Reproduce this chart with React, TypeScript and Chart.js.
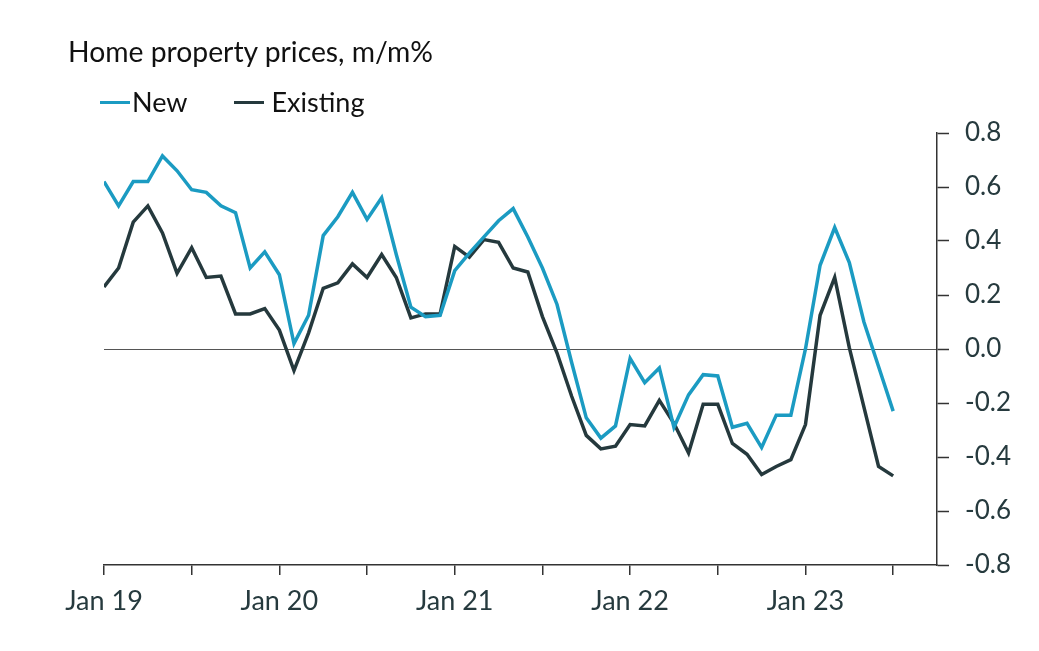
import React, { useEffect, useRef } from "react";
import { Chart, registerables } from "chart.js";

Chart.register(...registerables);

const startYear = 19;
const newPrices = [0.62, 0.53, 0.62, 0.62, 0.715, 0.66, 0.59, 0.58, 0.53, 0.505, 0.30, 0.36, 0.275, 0.02, 0.125, 0.42, 0.49, 0.58, 0.48, 0.56, 0.35, 0.155, 0.12, 0.125, 0.29, 0.355, 0.415, 0.475, 0.52, 0.415, 0.30, 0.165, -0.05, -0.255, -0.33, -0.285, -0.035, -0.125, -0.07, -0.29, -0.17, -0.095, -0.10, -0.29, -0.275, -0.365, -0.245, -0.245, 0.0, 0.31, 0.45, 0.32, 0.10, -0.065, -0.23];
const existingPrices = [0.23, 0.30, 0.47, 0.53, 0.43, 0.28, 0.375, 0.265, 0.27, 0.13, 0.13, 0.15, 0.07, -0.08, 0.06, 0.225, 0.245, 0.315, 0.265, 0.35, 0.265, 0.115, 0.13, 0.13, 0.38, 0.34, 0.405, 0.395, 0.30, 0.285, 0.12, -0.015, -0.175, -0.32, -0.37, -0.36, -0.28, -0.285, -0.19, -0.275, -0.385, -0.205, -0.205, -0.35, -0.39, -0.465, -0.435, -0.41, -0.28, 0.125, 0.265, 0.005, -0.215, -0.435, -0.47];
const yTicks = [-0.8, -0.6, -0.4, -0.2, 0.0, 0.2, 0.4, 0.6, 0.8];

const NEW_COLOR = "#1b9bc2";
const EXIST_COLOR = "#25393d";
const TEXT_COLOR = "#263a3e";
const FONT = "Lato";

export default function App() {
  const ref = useRef<HTMLCanvasElement | null>(null);
  useEffect(() => {
    if (!ref.current) return;
    const chart = new Chart(ref.current, {
      type: "line",
      data: {
        datasets: [
          {
            label: "New",
            data: newPrices.map((v, i) => ({ x: i, y: v })),
            borderColor: NEW_COLOR,
            borderWidth: 3.5,
            pointRadius: 0,
            tension: 0,
          },
          {
            label: "Existing",
            data: existingPrices.map((v, i) => ({ x: i, y: v })),
            borderColor: EXIST_COLOR,
            borderWidth: 3.5,
            pointRadius: 0,
            tension: 0,
          },
        ],
      },
      options: {
        animation: false,
        responsive: false,
        layout: { padding: { left: 104, top: 133, right: 0, bottom: 0 } },
        plugins: { legend: { display: false }, tooltip: { enabled: false } },
        scales: {
          x: {
            type: "linear",
            min: 0,
            max: 57,
            afterFit: (s: any) => {
              s.height = 86;
            },
            border: { display: true, color: "#333", width: 1.5 },
            grid: { drawOnChartArea: false, drawTicks: true, tickLength: 10, color: "#333", tickColor: "#333", lineWidth: 1.5 },
            ticks: {
              stepSize: 6,
              autoSkip: false,
              maxRotation: 0,
              includeBounds: false,
              padding: 10,
              color: TEXT_COLOR,
              font: { family: FONT, size: 27 },
              callback: (v: any) => {
                const n = Number(v);
                return n % 12 === 0 ? "Jan " + (startYear + n / 12) : "";
              },
            },
          },
          y: {
            position: "right",
            min: yTicks[0],
            max: yTicks[yTicks.length - 1],
            afterFit: (s: any) => {
              s.width = 102;
            },
            afterBuildTicks: (s: any) => {
              s.ticks = yTicks.map((v) => ({ value: v }));
            },
            border: { display: true, color: "#333", width: 1.5 },
            grid: {
              drawTicks: true,
              tickLength: 12,
              tickColor: "#333",
              tickWidth: 1.5,
              color: (ctx: any) => (ctx.tick && Math.abs(ctx.tick.value) < 1e-9 ? "#555" : "rgba(0,0,0,0)"),
              lineWidth: 1,
            },
            ticks: {
              padding: 16,
              color: TEXT_COLOR,
              font: { family: FONT, size: 26 },
              callback: (v: any) => {
                const n = Number(v);
                return Math.abs(n) < 1e-9 ? "0.0" : n.toFixed(1);
              },
            },
          },
        },
      },
    });
    return () => chart.destroy();
  }, []);

  return (
    <div style={{ position: "fixed", left: 0, top: 0, width: 1039, height: 651, background: "#fff", fontFamily: FONT }}>
      <canvas ref={ref} width={1039} height={651} style={{ position: "absolute", left: 0, top: 0 }} />
      <div style={{ position: "absolute", left: 68, top: 34, fontSize: 28.3, lineHeight: "34px", color: "#111", whiteSpace: "nowrap" }}>
        Home property prices, m/m%
      </div>
      <div style={{ position: "absolute", left: 100, top: 85, fontSize: 27, lineHeight: "34px", color: "#111", whiteSpace: "nowrap", display: "flex", alignItems: "center" }}>
        <span style={{ display: "inline-block", width: 30, height: 3, background: NEW_COLOR, marginRight: 2 }} />
        <span>New</span>
        <span style={{ display: "inline-block", width: 30, height: 3, background: EXIST_COLOR, marginLeft: 46, marginRight: 8 }} />
        <span>Existing</span>
      </div>
    </div>
  );
}
